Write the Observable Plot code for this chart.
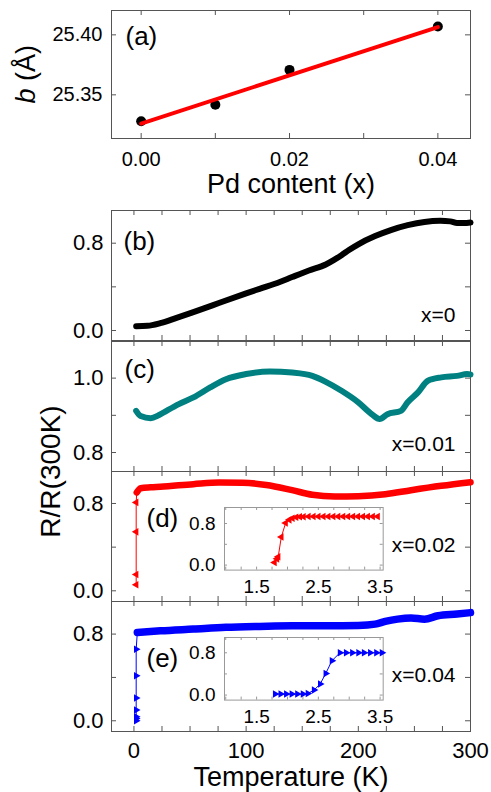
<!DOCTYPE html>
<html><head><meta charset="utf-8">
<script src="https://cdn.jsdelivr.net/npm/d3@7"></script>
<script src="https://cdn.jsdelivr.net/npm/@observablehq/plot@0.6"></script>
<style>
body{margin:0;background:#fff}
#chart{position:relative;width:491px;height:792px;overflow:hidden;background:#fff}
#chart svg{position:absolute;overflow:visible}
</style></head><body><div id="chart"></div>
<script>
// ---------- data ----------
// (a) lattice parameter b vs Pd content
const pdContent = [0, 0.01, 0.02, 0.04];
const latticeB = [25.328, 25.3417, 25.3708, 25.407];
const fitX = [0, 0.04];
const fitB = [25.326, 25.4065];
const aXTicks = [0, 0.01, 0.02, 0.03, 0.04];
const aXLabels = [0, 0.02, 0.04];
const aYTicks = [25.35, 25.40];

// (b) x=0
const tempB = [2, 12, 23.5, 38, 53, 70, 82, 100, 112, 130, 141, 156, 171, 178, 185, 192, 200, 215, 229, 244, 259, 273, 282, 288, 294, 300];
const rB =    [0.04, 0.043, 0.067, 0.116, 0.168, 0.23, 0.275, 0.34, 0.382, 0.445, 0.49, 0.55, 0.605, 0.645, 0.69, 0.74, 0.79, 0.865, 0.92, 0.965, 0.995, 1.005, 1.00, 0.985, 0.985, 0.99];

// (c) x=0.01
const tempC = [2, 6, 15, 22, 29, 40, 53, 68, 82, 100, 121, 141, 159, 171, 185, 200, 212, 219, 226, 238, 244, 253, 262, 274, 288, 297, 300];
const rC =    [0.912, 0.898, 0.892, 0.90, 0.912, 0.93, 0.948, 0.975, 0.997, 1.011, 1.018, 1.015, 1.006, 0.99, 0.966, 0.935, 0.903, 0.89, 0.903, 0.912, 0.935, 0.961, 0.993, 1.002, 1.006, 1.011, 1.01];

// (d) x=0.02
const tempD = [2.5, 6, 15, 23.5, 53, 76, 97, 118, 141, 159, 179, 200, 224, 247, 274, 300];
const rD =    [0.90, 0.94, 0.948, 0.953, 0.977, 0.992, 0.99, 0.97, 0.922, 0.88, 0.864, 0.867, 0.885, 0.922, 0.962, 0.995];
const tempDlow = [2, 2, 2, 2];
const rDlow = [0.055, 0.15, 0.54, 0.81];
const insetTD = [1.79, 1.83, 1.85, 1.90, 1.97, 2.03, 2.08, 2.14, 2.20, 2.26, 2.34, 2.42, 2.50, 2.58, 2.66, 2.74, 2.82, 2.90, 2.98, 3.06, 3.14, 3.22, 3.30, 3.38, 3.46];
const insetRD = [0.05, 0.12, 0.16, 0.54, 0.81, 0.87, 0.90, 0.92, 0.93, 0.932, 0.933, 0.934, 0.934, 0.934, 0.935, 0.935, 0.935, 0.935, 0.935, 0.935, 0.936, 0.936, 0.936, 0.936, 0.936];

// (e) x=0.04
const tempE = [3, 23.5, 53, 82, 112, 141, 171, 200, 215, 224, 235, 247, 259, 271, 288, 300];
const rE =    [0.815, 0.83, 0.846, 0.862, 0.871, 0.877, 0.877, 0.88, 0.892, 0.917, 0.938, 0.948, 0.938, 0.969, 0.985, 0.998];
const tempElow = [2, 2, 2, 2, 2, 2, 2];
const rElow = [0.0, 0.02, 0.037, 0.10, 0.21, 0.415, 0.66];
const insetTE = [1.80, 1.89, 1.98, 2.07, 2.16, 2.25, 2.33, 2.43, 2.53, 2.62, 2.72, 2.85, 2.95, 3.05, 3.15, 3.24, 3.34, 3.44, 3.53];
const insetRE = [0.019, 0.019, 0.019, 0.019, 0.019, 0.019, 0.03, 0.094, 0.21, 0.41, 0.65, 0.80, 0.80, 0.80, 0.80, 0.80, 0.80, 0.80, 0.80];

// ticks & labels
const tTicks = [0, 25, 50, 75, 100, 125, 150, 175, 200, 225, 250, 275, 300];
const tLabels = [0, 100, 200, 300];
const rTicks = [0, 0.4, 0.8];
const rLabels = [0, 0.8];
const rTicksC = [0.8, 0.9, 1.0];
const rLabelsC = [0.8, 1.0];
const insetTTicks = [1.0, 1.25, 1.5, 1.75, 2.0, 2.25, 2.5, 2.75, 3.0, 3.25, 3.5];
const insetTLabels = [1.5, 2.5, 3.5];
const panelLabels = ["(a)", "(b)", "(c)", "(d)", "(e)"];
const compLabels = ["x=0", "x=0.01", "x=0.02", "x=0.04"];
const colors = ["black", "#008080", "#ff0000", "#0000ff"];

// ---------- helpers ----------
const zip = (xs, ys) => xs.map((x, i) => ({x, y: ys[i]}));
const W = 491, ML = 111, MR = 21;
const FONT = "'Liberation Sans', Arial, Helvetica, sans-serif";
const FRAME = "#555";
const chart = document.getElementById("chart");
function place(svg, left, top) { svg.style.left = left + "px"; svg.style.top = top + "px"; chart.appendChild(svg); }
function inward(xt, yt, iw, ih, len, stroke) {
  return [
    Plot.tickX(xt, {x: d => d, insetTop: ih - len, stroke}),
    Plot.tickX(xt, {x: d => d, insetBottom: ih - len, stroke}),
    Plot.tickY(yt, {y: d => d, insetRight: iw - len, stroke}),
    Plot.tickY(yt, {y: d => d, insetLeft: iw - len, stroke})
  ];
}
const style = (fs) => ({fontFamily: FONT, fontSize: fs, background: "transparent", color: "black"});
const f1 = d3.format(".1f"), f2 = d3.format(".2f");

// ---------- (a) ----------
place(Plot.plot({
  width: W, height: 200, marginLeft: ML, marginRight: MR, marginTop: 10, marginBottom: 62,
  style: style("20px"),
  x: {domain: [-0.004, 0.0444], ticks: aXLabels, tickFormat: f2, tickSize: 0, tickPadding: 13, label: null},
  y: {domain: [25.3136, 25.4203], ticks: aYTicks, tickFormat: f2, tickSize: 0, tickPadding: 9, label: null},
  marks: [
    Plot.frame({stroke: FRAME}),
    ...inward(aXTicks, aYTicks, W - ML - MR, 128, 5, FRAME),
    Plot.dot(zip(pdContent, latticeB), {x: "x", y: "y", r: 5, fill: "black"}),
    Plot.line(zip(fitX, fitB), {x: "x", y: "y", stroke: "#ff0000", strokeWidth: 4}),
    Plot.text([panelLabels[0]], {text: d => d, frameAnchor: "top-left", dx: 14, dy: 26, textAnchor: "start", lineAnchor: "middle", fontSize: 26}),
    Plot.text(["b"], {text: d => d, frameAnchor: "left", dx: -85, dy: 29, rotate: -90, textAnchor: "start", lineAnchor: "middle", fontSize: 27, fontStyle: "italic"}),
    Plot.text(["(Å)"], {text: d => d, frameAnchor: "left", dx: -85, dy: 6.5, rotate: -90, textAnchor: "start", lineAnchor: "middle", fontSize: 27}),
    Plot.text(["Pd content (x)"], {text: d => d, frameAnchor: "bottom", dy: 45.5, lineAnchor: "middle", fontSize: 27})
  ]
}), 0, 0);

// ---------- main panels ----------
function mainPanel({top, yDomain, yTicks, yLabels, curve, sw, color, low, label, comp, compDy, labelDx, labelDy, bottom, extra = []}) {
  const mb = bottom ? 62 : 10;
  const h = 10 + 130 + mb;
  const marks = [
    Plot.frame({stroke: FRAME}),
    ...inward(tTicks, yTicks, W - ML - MR, 130, 5, FRAME),
    Plot.line(curve, {x: "x", y: "y", stroke: color, strokeWidth: sw, strokeLinecap: "round", strokeLinejoin: "round", curve: "monotone-x"})
  ];
  if (low) {
    marks.push(Plot.line(low.line, {x: "x", y: "y", stroke: color, strokeWidth: 1}));
    marks.push(Plot.dot(low.pts, {x: "x", y: "y", symbol: "triangle", rotate: low.rot, r: 2.8, fill: color, stroke: "none"}));
  }
  marks.push(Plot.text([label], {text: d => d, frameAnchor: "top-left", dx: labelDx, dy: labelDy, textAnchor: "start", lineAnchor: "middle", fontSize: 26}));
  marks.push(Plot.text([comp], {text: d => d, frameAnchor: "bottom-right", dx: -15, dy: compDy, textAnchor: "end", lineAnchor: "middle", fontSize: 21}));
  marks.push(...extra);
  place(Plot.plot({
    width: W, height: h, marginLeft: ML, marginRight: MR, marginTop: 10, marginBottom: mb,
    style: style("22px"),
    x: bottom ? {domain: [-20, 300], ticks: tLabels, tickSize: 0, tickPadding: 11, label: null}
              : {domain: [-20, 300], axis: null},
    y: {domain: yDomain, ticks: yLabels, tickFormat: f1, tickSize: 0, tickPadding: 8, label: null},
    marks
  }), 0, top - 10);
}

function inset({top, yDomain, pts, color, rot}) {
  const iml = 50, imr = 10, imt = 5, imb = 30, iw = 158.7, ih = 62.6;
  place(Plot.plot({
    width: iml + iw + imr, height: imt + ih + imb, marginLeft: iml, marginRight: imr, marginTop: imt, marginBottom: imb,
    style: style("19px"),
    x: {domain: [0.98, 3.55], ticks: insetTLabels, tickFormat: f1, tickSize: 0, tickPadding: 9, label: null},
    y: {domain: yDomain, ticks: rLabels, tickFormat: f1, tickSize: 0, tickPadding: 9, label: null},
    marks: [
      Plot.frame({stroke: "#999"}),
      ...inward(insetTTicks, rTicks, iw, ih, 3, "#999"),
      Plot.line(pts, {x: "x", y: "y", stroke: color, strokeWidth: 1}),
      Plot.dot(pts, {x: "x", y: "y", symbol: "triangle", rotate: rot, r: 2.8, fill: color, stroke: "none"})
    ]
  }), 224.3 - iml, top - imt);
}

mainPanel({top: 210, yDomain: [-0.0917, 1.0997], yTicks: rTicks, yLabels: rLabels,
  curve: zip(tempB, rB), sw: 6, color: colors[0], label: panelLabels[1], comp: compLabels[0], compDy: -25.5, labelDx: 12, labelDy: 31});

mainPanel({top: 340.7, yDomain: [0.749, 1.0984], yTicks: rTicksC, yLabels: rLabelsC,
  curve: zip(tempC, rC), sw: 6, color: colors[1], label: panelLabels[2], comp: compLabels[1], compDy: -27.4, labelDx: 13, labelDy: 28,
  extra: [Plot.text(["R/R(300K)"], {text: d => d, frameAnchor: "bottom-left", dx: -60, dy: 0, rotate: -90, textAnchor: "middle", lineAnchor: "middle", fontSize: 28})]});

mainPanel({top: 470.7, yDomain: [-0.098, 1.093], yTicks: rTicks, yLabels: rLabels,
  curve: zip(tempD, rD), sw: 6.5, color: colors[2],
  low: {pts: zip(tempDlow, rDlow), line: zip([...tempDlow, tempD[0]], [...rDlow, rD[0]]), rot: -90},
  label: panelLabels[3], comp: compLabels[2], compDy: -56, labelDx: 35, labelDy: 47});

mainPanel({top: 600.7, yDomain: [-0.099, 1.1007], yTicks: rTicks, yLabels: rLabels,
  curve: zip(tempE, rE), sw: 7.5, color: colors[3],
  low: {pts: zip(tempElow, rElow), line: zip([...tempElow, tempE[0]], [...rElow, rE[0]]), rot: 90},
  label: panelLabels[4], comp: compLabels[3], compDy: -56.7, labelDx: 35, labelDy: 57, bottom: true,
  extra: [Plot.text(["Temperature (K)"], {text: d => d, frameAnchor: "bottom", dy: 46, lineAnchor: "middle", fontSize: 27})]});

inset({top: 506.7, yDomain: [-0.096, 1.108], pts: zip(insetTD, insetRD), color: colors[2], rot: -90});
inset({top: 636.7, yDomain: [-0.095, 1.089], pts: zip(insetTE, insetRE), color: colors[3], rot: 90});
</script></body></html>
